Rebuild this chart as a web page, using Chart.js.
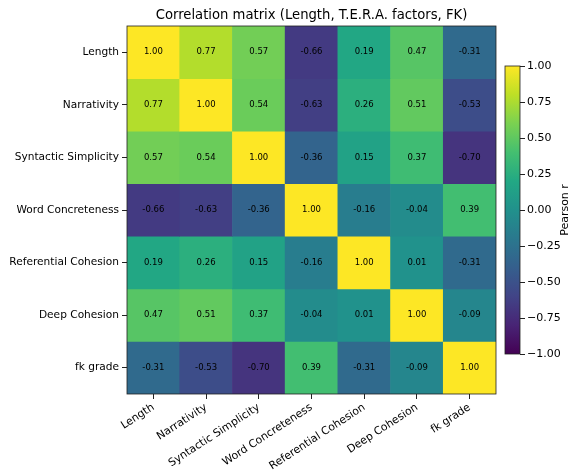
<!DOCTYPE HTML>
<html>
<head>
  <title>Correlation matrix</title>
  <meta charset="utf-8" />
  <script src="https://cdn.jsdelivr.net/npm/chart.js@4.4.1/dist/chart.umd.min.js"></script>
  <style type="text/css">
    body { margin: 0; padding: 0; background: #fff; }
    .wrap { position: relative; width: 575px; height: 476px; }
    #heat { position: absolute; left: 0; top: 0; }
    #cbar { position: absolute; left: 498px; top: 0; }
  </style>
</head>
<body>
<div class="wrap">
  <canvas id="heat" width="575" height="476"></canvas>
  <canvas id="cbar" width="77" height="476"></canvas>
</div>

<script>
  // factor names (rows and columns)
  var factors = ["Length", "Narrativity", "Syntactic Simplicity", "Word Concreteness",
                 "Referential Cohesion", "Deep Cohesion", "fk grade"];

  // one row of the matrix per factor
  var rLength      = [ 1.00,  0.77,  0.57, -0.66,  0.19,  0.47, -0.31];
  var rNarrativity = [ 0.77,  1.00,  0.54, -0.63,  0.26,  0.51, -0.53];
  var rSyntactic   = [ 0.57,  0.54,  1.00, -0.36,  0.15,  0.37, -0.70];
  var rConcrete    = [-0.66, -0.63, -0.36,  1.00, -0.16, -0.04,  0.39];
  var rReferential = [ 0.19,  0.26,  0.15, -0.16,  1.00,  0.01, -0.31];
  var rDeep        = [ 0.47,  0.51,  0.37, -0.04,  0.01,  1.00, -0.09];
  var rFk          = [-0.31, -0.53, -0.70,  0.39, -0.31, -0.09,  1.00];
  var matrix = [rLength, rNarrativity, rSyntactic, rConcrete, rReferential, rDeep, rFk];

  // colorbar ticks
  var cbarTicks = [-1, -0.75, -0.5, -0.25, 0, 0.25, 0.5, 0.75, 1];

  var FONT = "'DejaVu Sans', sans-serif";

  // viridis, 11 samples
  var viridis = ["#440154", "#482475", "#414487", "#355f8d", "#2a788e", "#21918c",
                 "#22a884", "#44bf70", "#7ad151", "#bddf26", "#fde725"];
  function hexRgb(h) {
    return [parseInt(h.substr(1, 2), 16), parseInt(h.substr(3, 2), 16), parseInt(h.substr(5, 2), 16)];
  }
  function viridisColor(v) {
    var t = Math.max(0, Math.min(1, (v + 1) / 2)) * 10;
    var i = Math.min(9, Math.floor(t)), f = t - i;
    var a = hexRgb(viridis[i]), b = hexRgb(viridis[i + 1]);
    return "rgb(" + Math.round(a[0] + (b[0] - a[0]) * f) + "," +
                    Math.round(a[1] + (b[1] - a[1]) * f) + "," +
                    Math.round(a[2] + (b[2] - a[2]) * f) + ")";
  }

  // frame around the plot area
  var framePlugin = {
    id: "frame",
    afterDraw: function(chart) {
      var c = chart.ctx, a = chart.chartArea;
      c.save();
      c.strokeStyle = "#222";
      c.lineWidth = 0.8;
      c.strokeRect(a.left, a.top, a.right - a.left, a.bottom - a.top);
      c.restore();
    }
  };

  // value text in each cell + title centred on the plot
  var cellText = {
    id: "cellText",
    afterDatasetsDraw: function(chart) {
      var c = chart.ctx;
      c.save();
      c.font = "8.5px " + FONT;
      c.fillStyle = "#000";
      c.textAlign = "center";
      c.textBaseline = "middle";
      chart.data.datasets.forEach(function(ds, r) {
        chart.getDatasetMeta(r).data.forEach(function(el, k) {
          var p = el.getCenterPoint();
          c.fillText(matrix[r][k].toFixed(2), p.x, p.y);
        });
      });
      var a = chart.chartArea;
      c.font = "13.2px " + FONT;
      c.textBaseline = "alphabetic";
      c.fillText("Correlation matrix (Length, T.E.R.A. factors, FK)", (a.left + a.right) / 2, 19);
      c.restore();
    }
  };

  // colorbar label, read bottom to top
  var cbarLabel = {
    id: "cbarLabel",
    afterDraw: function(chart) {
      var c = chart.ctx, a = chart.chartArea;
      c.save();
      c.translate(70, (a.top + a.bottom) / 2);
      c.rotate(-Math.PI / 2);
      c.font = "11px " + FONT;
      c.fillStyle = "#000";
      c.textAlign = "center";
      c.textBaseline = "alphabetic";
      c.fillText("Pearson r", 0, 0);
      c.restore();
    }
  };

  new Chart(document.getElementById("heat"), {
    type: "bar",
    data: {
      labels: factors,
      datasets: matrix.map(function(row, r) {
        return {
          label: factors[r],
          data: row.map(function() { return 1; }),
          backgroundColor: row.map(viridisColor),
          borderWidth: 0,
          barPercentage: 1,
          categoryPercentage: 1
        };
      })
    },
    options: {
      responsive: false,
      animation: false,
      layout: { padding: { left: 0, right: 79, top: 26, bottom: 0 } },
      plugins: { legend: { display: false }, tooltip: { enabled: false }, title: { display: false } },
      scales: {
        x: {
          stacked: true,
          grid: { drawOnChartArea: false, tickLength: 5, color: "#222", offset: false },
          border: { display: false },
          ticks: { color: "#000", font: { family: FONT, size: 10.8 }, minRotation: 33, maxRotation: 33,
                   autoSkip: false, padding: 2 },
          afterFit: function(s) { s.height = 82; }
        },
        y: {
          stacked: true,
          reverse: true,
          min: 0,
          max: 7,
          grid: { drawOnChartArea: false, tickLength: 5, color: "#222" },
          border: { display: false },
          afterBuildTicks: function(s) {
            s.ticks = factors.map(function(f, i) { return { value: i + 0.5 }; });
          },
          ticks: { color: "#000", font: { family: FONT, size: 10.6 }, padding: 3,
                   callback: function(v, i) { return factors[i]; } },
          afterFit: function(s) { s.width = 127; }
        }
      }
    },
    plugins: [cellText, framePlugin]
  });

  // colorbar: one floating bar from -1 to 1 filled with a viridis gradient
  new Chart(document.getElementById("cbar"), {
    type: "bar",
    data: {
      labels: ["r"],
      datasets: [{
        data: [[cbarTicks[0], cbarTicks[cbarTicks.length - 1]]],
        borderWidth: 0,
        barPercentage: 1,
        categoryPercentage: 1,
        backgroundColor: function(ctx) {
          var a = ctx.chart.chartArea;
          if (!a) return viridis[5];
          var g = ctx.chart.ctx.createLinearGradient(0, a.bottom, 0, a.top);
          viridis.forEach(function(col, i) { g.addColorStop(i / 10, col); });
          return g;
        }
      }]
    },
    options: {
      responsive: false,
      animation: false,
      layout: { padding: { left: 7, right: 0, top: 66, bottom: 122 } },
      plugins: { legend: { display: false }, tooltip: { enabled: false } },
      scales: {
        x: { display: false },
        y: {
          position: "right",
          min: -1,
          max: 1,
          grid: { drawOnChartArea: false, tickLength: 5, color: "#222" },
          border: { display: false },
          afterBuildTicks: function(s) {
            s.ticks = cbarTicks.map(function(v) { return { value: v }; });
          },
          ticks: { color: "#000", font: { family: FONT, size: 11 }, padding: 2,
                   callback: function(v) { return v.toFixed(2).replace("-", "\u2212"); } },
          afterFit: function(s) { s.width = 55; }
        }
      }
    },
    plugins: [framePlugin, cbarLabel]
  });
</script>
</body>
</html>
